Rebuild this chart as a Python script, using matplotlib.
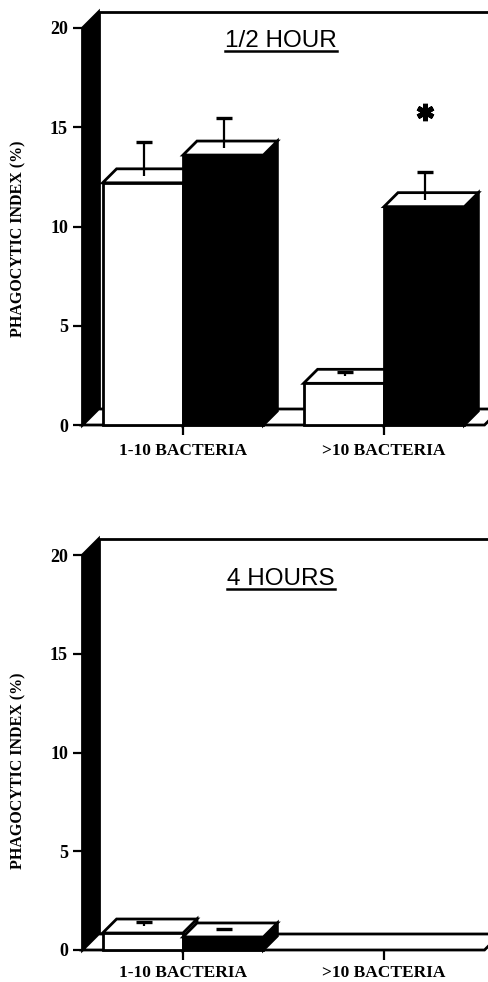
import numpy as np
import matplotlib.pyplot as plt
from matplotlib.patches import Polygon
from matplotlib.lines import Line2D

plt.rcParams['font.family'] = 'Liberation Serif'
plt.rcParams['font.weight'] = 'bold'
plt.rcParams['axes.linewidth'] = 1.5

# data (front-top of each bar)
categories = ['1-10 BACTERIA', '>10 BACTERIA']
panel_titles = ['1/2 HOUR', '4 HOURS']
yticks = [0, 5, 10, 15, 20]

open_half = [12.2, 2.1]
open_half_err = [2.05, 0.55]
filled_half = [13.6, 11.0]
filled_half_err = [1.85, 1.75]

open_four = [0.86, 0.0]
open_four_err = [0.56, 0.0]
filled_four = [0.66, 0.0]
filled_four_err = [0.40, 0.0]

signif_half = [False, True]
signif_four = [False, False]

W, H = 488, 982
fig = plt.figure(figsize=(W/100, H/100), dpi=100)

# pixel layout of each panel: (y of 0, y of 20, title centre y, ylabel centre y, xlabel pad)
layout = [(425, 28, 41, 239, 6), (950, 555, 579, 771, 3.5)]
x_left_px = 82.5
unit_px = 201.0
bar_w = 0.4
wall_d = 16.0
bar_d = 14.0
cap_px = 8.0

panels = [
    (open_half, open_half_err, filled_half, filled_half_err, signif_half),
    (open_four, open_four_err, filled_four, filled_four_err, signif_four),
]

lw = 2.0

def poly(ax, pts, fc, z):
    ax.add_patch(Polygon(pts, closed=True, facecolor=fc, edgecolor='black',
                         linewidth=lw, joinstyle='miter', clip_on=False, zorder=z))

def bar3d(ax, x0, h, sx, sy, fc, z):
    x1 = x0 + bar_w
    dx, dy = bar_d*sx, bar_d*sy
    poly(ax, [(x1, 0), (x1+dx, dy), (x1+dx, h+dy), (x1, h)], fc, z)
    poly(ax, [(x0, h), (x1, h), (x1+dx, h+dy), (x0+dx, h+dy)], 'white', z)
    poly(ax, [(x0, 0), (x1, 0), (x1, h), (x0, h)], fc, z)

def errbar(ax, xc, h, e, sx, sy, z):
    if e <= 0:
        return
    xc = xc + 1*sx
    ax.plot([xc, xc], [h + bar_d*sy/2, h + e], color='black', lw=1.6,
            solid_capstyle='butt', clip_on=False, zorder=z)
    ax.plot([xc - cap_px*sx, xc + cap_px*sx], [h + e, h + e], color='black',
            lw=2.4, solid_capstyle='butt', clip_on=False, zorder=z)

for p, (vo, eo, vf, ef, sig) in enumerate(panels):
    y0, y20, ty, ly, xpad = layout[p]
    ax = fig.add_axes([x_left_px/W, (H - y0)/H, (W - x_left_px)/W, (y0 - y20)/H])
    xmax = -0.5 + (W - x_left_px)/unit_px
    ax.set_xlim(-0.5, xmax)
    ax.set_ylim(0, 20)
    sx = 1.0/unit_px
    sy = 20.0/(y0 - y20)
    for s in ax.spines.values():
        s.set_visible(False)
    ax.patch.set_alpha(0)

    # box: back wall, left wall, floor
    dxw, dyw = wall_d*sx, wall_d*sy
    poly(ax, [(-0.5+dxw, dyw), (1.5+dxw, dyw), (1.5+dxw, 20+dyw), (-0.5+dxw, 20+dyw)], 'white', 1)
    poly(ax, [(-0.5, 0), (-0.5, 20), (-0.5+dxw, 20+dyw), (-0.5+dxw, dyw)], 'black', 2)
    poly(ax, [(-0.5, 0), (1.5, 0), (1.5+dxw, dyw), (-0.5+dxw, dyw)], 'white', 3)

    z = 4
    for i in range(len(categories)):
        if vo[i] > 0:
            bar3d(ax, i - bar_w, vo[i], sx, sy, 'white', z)
            errbar(ax, i - bar_w/2, vo[i], eo[i], sx, sy, z + 0.5)
        z += 1
        if vf[i] > 0:
            bar3d(ax, i, vf[i], sx, sy, 'black', z)
            errbar(ax, i + bar_w/2, vf[i], ef[i], sx, sy, z + 0.5)
        if sig[i]:
            ax.plot(i + bar_w/2 + 1*sx, vf[i] + ef[i] + 3.0, marker=(6, 2, 0),
                    ms=12.5, mew=3.6, color='black', clip_on=False, zorder=20)
        z += 1

    ax.set_yticks(yticks)
    ax.set_xticks(range(len(categories)))
    ax.set_xticklabels(categories)
    ax.tick_params(axis='y', direction='out', length=7, width=1.6, pad=3.5, labelsize=13)
    ax.tick_params(axis='x', direction='out', length=7, width=1.6, pad=xpad, labelsize=12.5)

    fig.text(18/W, 1 - ly/H, 'PHAGOCYTIC INDEX (%)', rotation=90, ha='center',
             va='center', fontsize=11.5)
    t = fig.text(281/W, 1 - ty/H, panel_titles[p], ha='center', va='center',
                 fontsize=17.5, family='Liberation Sans', weight='normal')
    fig.canvas.draw()
    bb = t.get_window_extent()
    fig.add_artist(Line2D([bb.x0/W, bb.x1/W], [(bb.y0 + 1)/H, (bb.y0 + 1)/H],
                          color='black', lw=1.8))

fig.savefig('out.png', dpi=100)
